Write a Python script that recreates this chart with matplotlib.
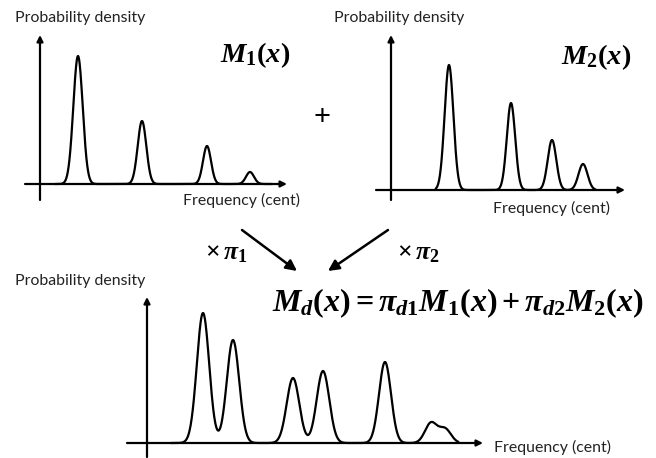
import numpy as np
import matplotlib.pyplot as plt
from matplotlib.patches import FancyArrowPatch

W, H = 656, 458

# peaks of each mixture: centre (cent, from the y axis), height, width
m1_centers = [38, 102, 167, 210]
m1_heights = [128, 63, 38, 12]
m1_widths = [4.7, 4.3, 4.0, 4.0]
m1_span = (16, 231)

m2_centers = [58, 120, 161, 192]
m2_heights = [125, 87, 50, 26]
m2_widths = [4.4, 4.2, 4.3, 4.5]
m2_span = (45, 204)

md_centers = [56, 86, 146, 176, 238, 284, 298]
md_heights = [130, 103, 65, 72, 81, 20, 14]
md_widths = [6.2, 6.2, 6.3, 6.3, 6.0, 6.0, 6.0]
md_span = (25, 311)

plt.rcParams['mathtext.fontset'] = 'custom'
plt.rcParams['mathtext.it'] = 'Liberation Serif:italic:bold'
plt.rcParams['mathtext.rm'] = 'Liberation Serif:bold'
plt.rcParams['mathtext.bf'] = 'Liberation Serif:bold'

SANS = 'Lato'


def mixture(centers, heights, widths, span):
    x = np.linspace(span[0], span[1], 800)
    y = np.zeros_like(x)
    for c, h, w in zip(centers, heights, widths):
        y += h * np.exp(-(x - c) ** 2 / (2 * w ** 2))
    return x, y


def fpos(x, y):
    # pixel position -> figure fraction
    return x / W, 1 - y / H


def panel(fig, left, top, right, bottom, xlim, ylim):
    ax = fig.add_axes([left / W, 1 - bottom / H, (right - left) / W, (bottom - top) / H])
    ax.set_xlim(*xlim)
    ax.set_ylim(*ylim)
    ax.axis('off')
    arrow = dict(arrowstyle='-|>', color='k', lw=1.6, mutation_scale=9,
                 shrinkA=0, shrinkB=0)
    ax.annotate('', xy=(xlim[1], 0), xytext=(xlim[0], 0), arrowprops=arrow)
    ax.annotate('', xy=(0, ylim[1]), xytext=(0, ylim[0]), arrowprops=arrow)
    return ax


fig = plt.figure(figsize=(W / 100, H / 100), dpi=100)

ax1 = panel(fig, 25, 35, 287, 200, (-15, 247), (-16, 149))
ax1.plot(*mixture(m1_centers, m1_heights, m1_widths, m1_span), color='k', lw=1.6)

ax2 = panel(fig, 376, 35, 625, 200, (-15, 234), (-10, 155))
ax2.plot(*mixture(m2_centers, m2_heights, m2_widths, m2_span), color='k', lw=1.6)

ax3 = panel(fig, 127, 297, 483, 457, (-20, 336), (-14, 146))
ax3.plot(*mixture(md_centers, md_heights, md_widths, md_span), color='k', lw=1.6)

# axis labels
for (x, y) in [(15, 18), (334, 18), (15, 281)]:
    fig.text(*fpos(x, y), 'Probability density', family=SANS, fontsize=11.4,
             ha='left', va='center', color='#222222')
for (x, y) in [(183, 200), (493, 208), (494, 447)]:
    fig.text(*fpos(x, y), 'Frequency (cent)', family=SANS, fontsize=11.4,
             ha='left', va='center', color='#222222')

# model names
fig.text(*fpos(255, 55), r'$M_1(x)$', fontsize=20.5, ha='center', va='center')
fig.text(*fpos(596, 57), r'$M_2(x)$', fontsize=20.5, ha='center', va='center')
fig.text(*fpos(322, 117), '+', family=SANS, fontsize=21, ha='center', va='center')
fig.text(*fpos(458, 303), r'$M_d(x) = \pi_{d1}M_1(x) + \pi_{d2}M_2(x)$',
         fontsize=23, ha='center', va='center')

# weighting arrows
for (x0, y0), (x1, y1) in [((242, 230), (297, 271)), ((388, 230), (328, 271))]:
    fig.add_artist(FancyArrowPatch(fpos(x0, y0), fpos(x1, y1), transform=fig.transFigure,
                                   arrowstyle='-|>', mutation_scale=16, lw=1.8,
                                   color='k', shrinkA=0, shrinkB=0))
fig.text(*fpos(226, 252), r'$\times\,\pi_1$', fontsize=18.5, ha='center', va='center')
fig.text(*fpos(418, 252), r'$\times\,\pi_2$', fontsize=18.5, ha='center', va='center')

fig.savefig('out.png', dpi=100, facecolor='white')
